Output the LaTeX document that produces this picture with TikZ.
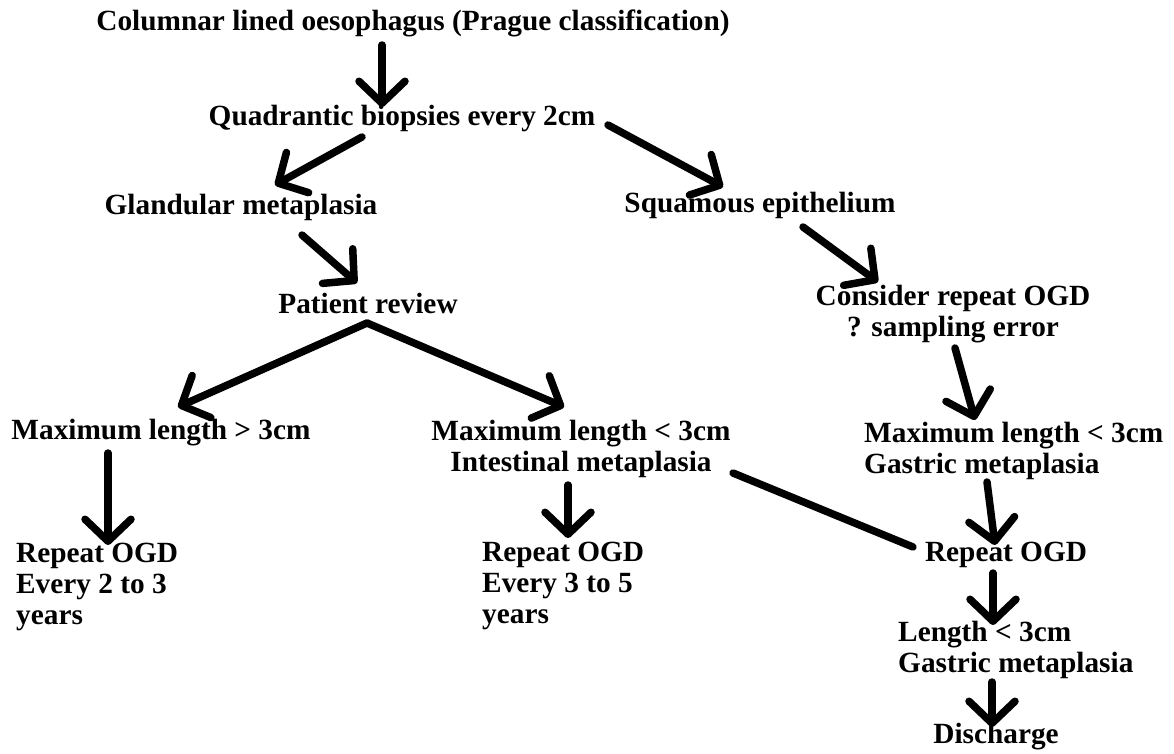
\documentclass[tikz,border=0pt]{standalone}
\usepackage{fontspec}
\setmainfont{Liberation Serif}
\usepackage{tikz}
\usetikzlibrary{arrows.meta}

\begin{document}
\begin{tikzpicture}[x=1pt, y=-1pt,
    lbl/.style={inner sep=0pt, font=\fontsize{29.3}{31}\selectfont\bfseries},
    arr/.style={line width=7.5pt, line cap=round, -{Straight Barb[length=22pt, width=46pt, round]}},
    link/.style={line width=7.5pt, line cap=round}]
  \useasboundingbox (0,0) rectangle (1174,753);

  % boxes of text
  \node[lbl] (title) at (413,23) {Columnar lined oesophagus (Prague classification)};
  \node[lbl] (quad) at (402,118) {Quadrantic biopsies every 2cm};
  \node[lbl] (gland) at (241,207) {Glandular metaplasia};
  \node[lbl] (squam) at (760,205) {Squamous epithelium};
  \node[lbl] (review) at (368,303) {Patient review};
  \node[lbl, align=center] (consider) at (953,314) {Consider repeat OGD\\? sampling error};
  \node[lbl] (maxgt) at (161,433) {Maximum length > 3cm};
  \node[lbl, align=center] (maxlt) at (581,449) {Maximum length < 3cm\\Intestinal metaplasia};
  \node[lbl, align=left, anchor=west] (maxgast) at (864,451) {Maximum length < 3cm\\Gastric metaplasia};
  \node[lbl, align=left, anchor=west] (rep1) at (16,587) {Repeat OGD\\Every 2 to 3\\years};
  \node[lbl, align=left, anchor=west] (rep2) at (482,586) {Repeat OGD\\Every 3 to 5\\years};
  \node[lbl] (rep3) at (1006,555) {Repeat OGD};
  \node[lbl, align=left, anchor=west] (len) at (898,650) {Length < 3cm\\Gastric metaplasia};
  \node[lbl] (disch) at (996,737) {Discharge};

  % hand drawn arrows
  \draw[arr] ([shift={(-31,22)}]title.center) -- ([shift={(-20,-11)}]quad.center);
  \draw[arr] ([shift={(-40,19)}]quad.center) -- ([shift={(34,-22)}]gland.center);
  \draw[arr] ([shift={(206,7)}]quad.center) -- ([shift={(-37,-18)}]squam.center);
  \draw[arr] ([shift={(61,28)}]gland.center) -- ([shift={(-11,-20)}]review.center);
  \draw[arr] ([shift={(43,22)}]squam.center) -- ([shift={(-75,-32)}]consider.center);
  \draw[arr] ([shift={(-1,20)}]review.center) -- ([shift={(17,-26)}]maxgt.center);
  \draw[arr] ([shift={(-1,20)}]review.center) -- ([shift={(-17,-42)}]maxlt.center);
  \draw[arr] ([shift={(2,34)}]consider.center) -- ([shift={(111,-31)}]maxgast.west);
  \draw[arr] ([shift={(-53,20)}]maxgt.center) -- ([shift={(92,-42)}]rep1.west);
  \draw[arr] ([shift={(-13,36)}]maxlt.center) -- ([shift={(86,-48)}]rep2.west);
  \draw[link] ([shift={(152,24)}]maxlt.center) -- ([shift={(-93,-8)}]rep3.center);
  \draw[arr] ([shift={(123,31)}]maxgast.west) -- ([shift={(-11,-10)}]rep3.center);
  \draw[arr] ([shift={(-13,18)}]rep3.center) -- ([shift={(95,-25)}]len.west);
  \draw[arr] ([shift={(94,32)}]len.west) -- ([shift={(-4,-10)}]disch.center);
\end{tikzpicture}
\end{document}
